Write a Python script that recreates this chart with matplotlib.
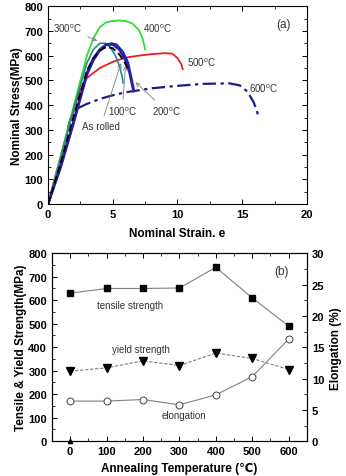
import matplotlib
matplotlib.use('Agg')
import matplotlib.pyplot as plt
from matplotlib.ticker import MultipleLocator

plt.rcParams['font.family'] = ['Liberation Sans', 'DejaVu Sans']
plt.rcParams['mathtext.default'] = 'regular'

# ---- panel (a): stress-strain curves ----
as_rolled_x = [0, 1, 2, 3, 3.5, 4, 4.5, 5, 5.5, 5.9, 6.2]
as_rolled_y = [0, 170, 360, 540, 590, 620, 635, 630, 605, 575, 540]
t100_x = [0, 1, 2, 3, 3.5, 4, 4.5, 5, 5.5, 6, 6.3, 6.5, 6.6]
t100_y = [0, 160, 340, 530, 590, 625, 645, 645, 625, 580, 530, 480, 460]
t200_x = [0, 1, 2, 3, 3.5, 4, 4.5, 4.9, 5.3, 5.8, 6.2, 6.4, 6.6, 6.6]
t200_y = [0, 150, 330, 520, 580, 620, 645, 650, 645, 615, 570, 520, 470, 455]
t300_x = [0, 1, 2, 3, 3.5, 4, 4.4, 4.8, 5.2, 5.5, 5.7, 5.8]
t300_y = [0, 190, 390, 570, 625, 650, 650, 635, 600, 560, 520, 490]
t400_x = [0, 1, 2, 3, 3.5, 4, 4.5, 5, 5.5, 6, 6.5, 7, 7.3, 7.5]
t400_y = [0, 195, 400, 600, 670, 715, 735, 740, 742, 740, 730, 705, 670, 625]
t500_x = [0, 1, 2, 2.5, 3, 4, 5, 6, 7, 8, 9, 9.6, 10, 10.3, 10.4]
t500_y = [0, 200, 390, 460, 510, 550, 575, 592, 600, 606, 610, 608, 590, 565, 545]
t600_x = [0, 1, 1.7, 2, 3, 4, 5, 6, 8, 10, 12, 14, 14.8, 15.4, 15.9, 16.3]
t600_y = [0, 190, 340, 380, 405, 425, 440, 452, 468, 478, 486, 488, 480, 455, 410, 350]

# ---- panel (b): properties vs annealing temperature ----
temps = [0, 100, 200, 300, 400, 500, 600]
tensile = [630, 650, 650, 652, 740, 610, 490]
yield_str = [298, 312, 342, 322, 375, 352, 305]
elong = [6.4, 6.4, 6.65, 5.8, 7.4, 10.3, 16.3]

fig = plt.figure(figsize=(3.46, 4.77), dpi=100)
ax1 = fig.add_axes([0.139, 0.570, 0.748, 0.415])
ax2 = fig.add_axes([0.150, 0.073, 0.737, 0.394])

ax1.plot(t600_x, t600_y, color='#1c1c8c', lw=1.6, ls=(0, (6, 2, 1.5, 2)))
ax1.plot(t500_x, t500_y, color='#ee1c1c', lw=1.3)
ax1.plot(t400_x, t400_y, color='#33dd33', lw=1.3)
ax1.plot(t300_x, t300_y, color='#1f8a8a', lw=1.2)
ax1.plot(t200_x, t200_y, color='#2222dd', lw=1.5)
ax1.plot(t100_x, t100_y, color='#2a1f99', lw=1.8)
ax1.plot(as_rolled_x, as_rolled_y, color='black', lw=1.3, ls=(0, (4, 2)))

ax1.set_xlim(0, 20)
ax1.set_ylim(0, 800)
ax1.xaxis.set_major_locator(MultipleLocator(5))
ax1.xaxis.set_minor_locator(MultipleLocator(2.5))
ax1.yaxis.set_major_locator(MultipleLocator(100))
ax1.yaxis.set_minor_locator(MultipleLocator(50))
ax1.set_xlabel('Nominal Strain. e', fontsize=8.5, fontweight='bold', labelpad=6)
ax1.set_ylabel('Nominal Stress(MPa)', fontsize=8.5, fontweight='bold', labelpad=1)

tk = dict(fontsize=7, color='#333333')
arr = dict(arrowstyle='->', color='gray', lw=0.6)
ax1.annotate('300$^o$C', xy=(4.0, 655), xytext=(0.4, 695), arrowprops=arr, **tk)
ax1.text(7.3, 695, '400$^o$C', **tk)
ax1.text(10.7, 558, '500$^o$C', **tk)
ax1.text(15.5, 455, '600$^o$C', **tk)
ax1.annotate('100$^o$C', xy=(6.0, 570), xytext=(4.6, 360), arrowprops=arr, **tk)
ax1.annotate('200$^o$C', xy=(6.6, 500), xytext=(8.0, 360), arrowprops=arr, **tk)
ax1.annotate('As rolled', xy=(5.7, 580), xytext=(2.6, 303), arrowprops=arr, **tk)
ax1.text(17.6, 715, '(a)', fontsize=8.5, color='#333333')

# panel (b)
ax3 = ax2.twinx()
ax2.plot(temps, tensile, color='gray', lw=0.8, marker='s', ms=5, mfc='black', mec='black')
ax2.plot(temps, yield_str, color='gray', lw=0.8, ls=(0, (3, 1.5)), marker='v', ms=5.5, mfc='black', mec='black')
ax3.plot(temps, elong, color='gray', lw=0.8, marker='o', ms=5, mfc='white', mec='#444444', mew=0.7)
ax2.plot([0], [0], marker='^', ms=3, color='black', clip_on=False)

ax2.set_xlim(-50, 650)
ax2.set_ylim(0, 800)
ax3.set_ylim(0, 30)
ax2.xaxis.set_major_locator(MultipleLocator(100))
ax2.xaxis.set_minor_locator(MultipleLocator(50))
ax2.yaxis.set_major_locator(MultipleLocator(100))
ax2.yaxis.set_minor_locator(MultipleLocator(50))
ax3.yaxis.set_major_locator(MultipleLocator(5))
ax3.yaxis.set_minor_locator(MultipleLocator(2.5))
ax2.set_xlabel('Annealing Temperature (\u2103)', fontsize=8.5, fontweight='bold', labelpad=4)
ax2.set_ylabel('Tensile & Yield Strength(MPa)', fontsize=8.5, fontweight='bold', labelpad=1)
ax3.set_ylabel('Elongation (%)', fontsize=8.5, fontweight='bold', labelpad=4)

ax2.text(75, 565, 'tensile strength', **tk)
ax2.text(115, 380, 'yield strength', **tk)
ax2.text(250, 100, 'elongation', **tk)
ax2.text(560, 710, '(b)', fontsize=8.5, color='#333333')

for a in (ax1, ax2):
    a.tick_params(which='both', direction='in', top=True, right=True)
    a.tick_params(which='major', length=3.5, width=0.7)
    a.tick_params(which='minor', length=2, width=0.6)
ax3.tick_params(which='both', direction='in')
ax3.tick_params(which='major', length=3.5, width=0.7)
ax3.tick_params(which='minor', length=2, width=0.6)
ax2.tick_params(axis='y', which='both', right=False)

for a in (ax1, ax2, ax3):
    for lab in a.get_xticklabels() + a.get_yticklabels():
        lab.set_fontweight('bold')
        lab.set_fontsize(8)
    for s in a.spines.values():
        s.set_linewidth(0.8)

fig.savefig('out.png', dpi=100)
